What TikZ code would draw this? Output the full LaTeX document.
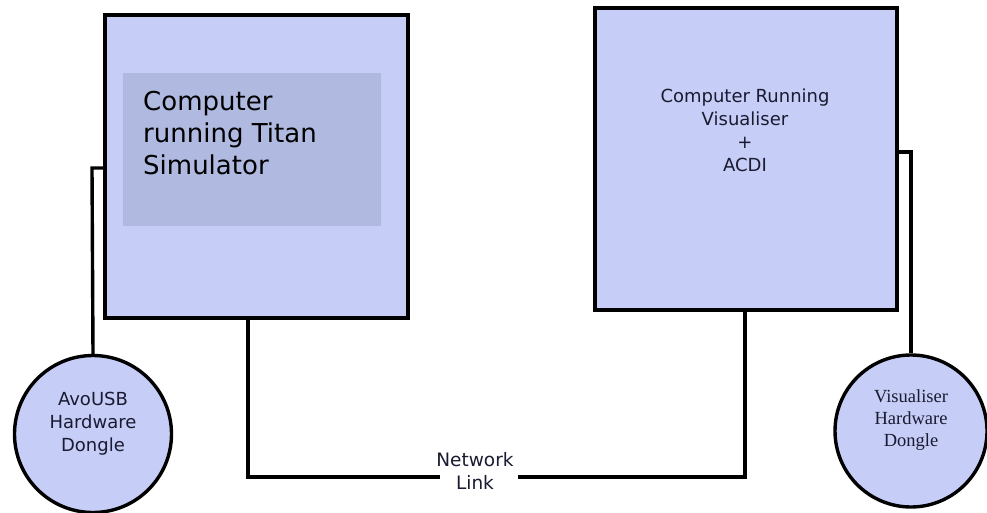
\documentclass[tikz,border=0pt]{standalone}
\usepackage{fontspec}
\setmainfont{DejaVu Sans}
\newfontfamily\serifdongle{Liberation Serif}
\definecolor{boxfill}{HTML}{C6CEF8}
\definecolor{innerfill}{HTML}{B0B9E0}
\definecolor{inktext}{HTML}{1A1A30}
\begin{document}
\begin{tikzpicture}[x=1pt,y=-1pt,
  wire/.style={line width=3.4pt,black},
  computer/.style={draw=black,line width=3.6pt,fill=boxfill,minimum width=#1,minimum height=#1,inner sep=0pt},
  dongle/.style={draw=black,line width=3.4pt,fill=boxfill,circle,inner sep=0pt,minimum size=#1},
  lbl/.style={text=inktext,align=center,inner sep=0pt}]
\useasboundingbox (0,0) rectangle (987,513);
% left computer
\node[computer=303pt] (simbox) at (256.5,166.5) {};
\node[fill=innerfill,minimum width=258pt,minimum height=153pt,inner sep=0pt] (inner) at (252,149.5) {};
\node[anchor=north west,align=left,inner sep=0pt,font=\fontsize{26}{32}\selectfont,text=black] (simtext) at (143,91) {Computer\\running Titan\\Simulator};
% right computer
\node[computer=302pt] (visbox) at (746,159) {};
\node[lbl,font=\fontsize{18}{23}\selectfont,anchor=north] (vistext) at (745,89) {Computer Running\\Visualiser\\+\\ACDI};
% dongles
\node[dongle=157pt] (avo) at (93,434) {};
\node[lbl,font=\fontsize{18}{23}\selectfont] (avotext) at (93,424) {AvoUSB\\Hardware\\Dongle};
\node[dongle=152pt] (visd) at (911,431) {};
\node[lbl,font=\serifdongle\fontsize{18.5}{22}\selectfont] (visdtext) at (911,420) {Visualiser\\Hardware\\Dongle};
% network label
\node[lbl,font=\fontsize{18.5}{23}\selectfont] (net) at (475,471) {Network\\Link};
% connectors
\coordinate (lcorner) at (92,168);
\coordinate (rcorner) at (911,152);
\coordinate (nl) at (248,477);
\coordinate (nr) at (745,477);
\draw[wire] (simbox.west |- lcorner) -- (lcorner) -- (avo.north);
\draw[wire] (visbox.east |- rcorner) -- (rcorner) -- (visd.north);
\draw[wire] (simbox.south -| nl) -- (nl) -- (440,477);
\draw[wire] (518,477) -- (nr) -- (visbox.south -| nr);
\end{tikzpicture}
\end{document}
